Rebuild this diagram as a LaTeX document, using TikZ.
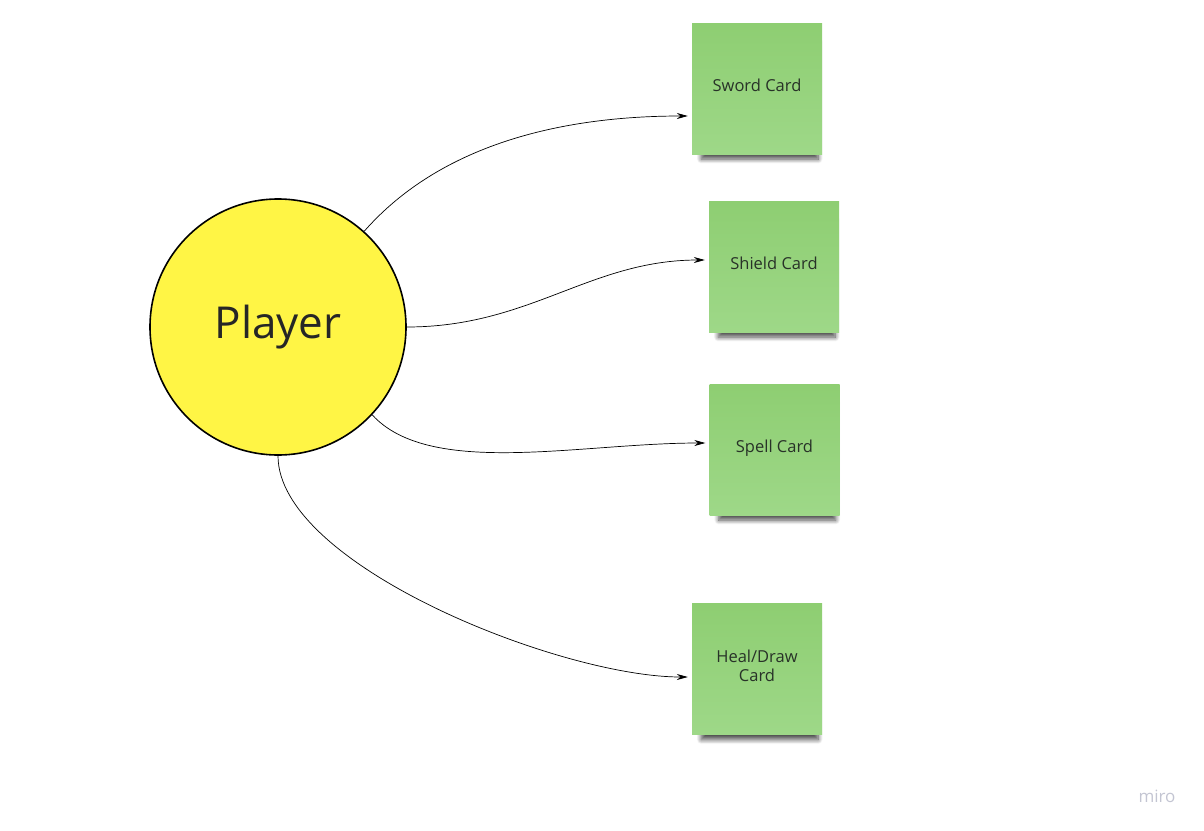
\documentclass[tikz,border=0pt]{standalone}
\usepackage{fontspec}
\setmainfont{Open Sans}
\usetikzlibrary{arrows.meta,shadows.blur}
\definecolor{playeryellow}{RGB}{255,245,69}
\definecolor{notetop}{RGB}{142,206,114}
\definecolor{notebot}{RGB}{158,216,136}
\definecolor{notetext}{RGB}{40,50,40}
\definecolor{mirogray}{RGB}{195,197,210}
\begin{document}
\begin{tikzpicture}[x=1pt,y=-1pt,
  note/.style={rectangle, minimum width=130pt, minimum height=131pt, inner sep=0pt,
    top color=notetop, bottom color=notebot, text=notetext,
    font=\fontsize{16.5}{19}\selectfont, align=center, text depth=6pt,
    blur shadow={shadow xshift=3pt, shadow yshift=-13pt, shadow scale=0.9, shadow blur radius=5pt, shadow blur steps=10, shadow opacity=70}},
  conn/.style={draw=black, line width=0.7pt, -{Stealth[length=11pt,width=6pt]}}
]
\useasboundingbox (0,0) rectangle (1204,830);
\node[circle, draw=black, line width=1.6pt, fill=playeryellow, minimum size=256pt, inner sep=0pt,
  font=\fontsize{44}{50}\selectfont, text=black!85] (player) at (278,327) {Player};

\node[note] (sword) at (757,88.5) {Sword Card};
\node[note] (shield) at (774,266.5) {Shield Card};
\node[note] (spell) at (774.5,449.5) {Spell Card};
\node[note] (heal) at (757,669) {Heal/Draw\\Card};

\node[font=\fontsize{17}{20}\selectfont, text=mirogray] (miro) at (1157,796) {miro};

\draw[conn] (player.48) .. controls (440,145) and (560,116) .. ([xshift=-4pt]sword.west |- 0,116);
\draw[conn] (player.east) .. controls (530,327) and (590,260) .. ([xshift=-4pt]shield.west |- 0,260);
\draw[conn] (player.-43) .. controls (430,478) and (580,443) .. ([xshift=-4pt]spell.west |- 0,443);
\draw[conn] (player.south) .. controls (278,565) and (560,677) .. ([xshift=-4pt]heal.west |- 0,677);
\end{tikzpicture}
\end{document}
